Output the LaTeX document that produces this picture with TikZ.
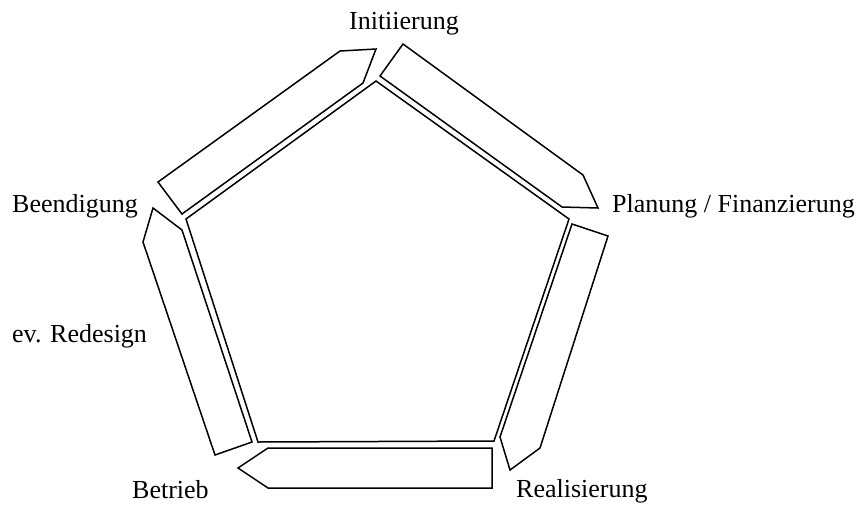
\documentclass[tikz,border=0pt]{standalone}
\usepackage{fontspec}
\setmainfont{Liberation Serif}

\begin{document}
\begin{tikzpicture}[x=1pt,y=-1pt,
    cycleline/.style={draw=black,line width=1.5pt,line join=miter},
    phasearrow/.style={draw=black,line width=1.5pt,line join=miter},
    phasename/.style={font=\fontsize{26}{30}\selectfont,inner sep=0pt}]
  \useasboundingbox (0,0) rectangle (861,504);
  \coordinate (top) at (376,81);
  \coordinate (right) at (569,219);
  \coordinate (lowright) at (494,441);
  \coordinate (lowleft) at (258,442);
  \coordinate (left) at (186,219);
  \draw[cycleline] (top) -- (right) -- (lowright) -- (lowleft) -- (left) -- cycle;
  \draw[phasearrow] (158,182) -- (340,51) -- (376,49) -- (363,83) -- (182,214) -- cycle;
  \draw[phasearrow] (403,44) -- (583,175) -- (598,208) -- (562,207) -- (380,76) -- cycle;
  \draw[phasearrow] (608,236) -- (540,448) -- (510,470) -- (500,437) -- (572,224) -- cycle;
  \draw[phasearrow] (492,448) -- (268,448) -- (238,468) -- (268,488) -- (492,488) -- cycle;
  \draw[phasearrow] (215,455) -- (143,242) -- (153,208) -- (182,230) -- (252,442) -- cycle;
  \node[phasename,anchor=base] (init) at (404,29) {Initiierung};
  \node[phasename,anchor=base west] (plan) at (612,212) {Planung / Finanzierung};
  \node[phasename,anchor=base west] (real) at (516,497) {Realisierung};
  \node[phasename,anchor=base west] (betr) at (132,498) {Betrieb};
  \node[phasename,anchor=base west] (redes) at (12,342) {ev. Redesign};
  \node[phasename,anchor=base west] (ende) at (12,212) {Beendigung};
\end{tikzpicture}
\end{document}
